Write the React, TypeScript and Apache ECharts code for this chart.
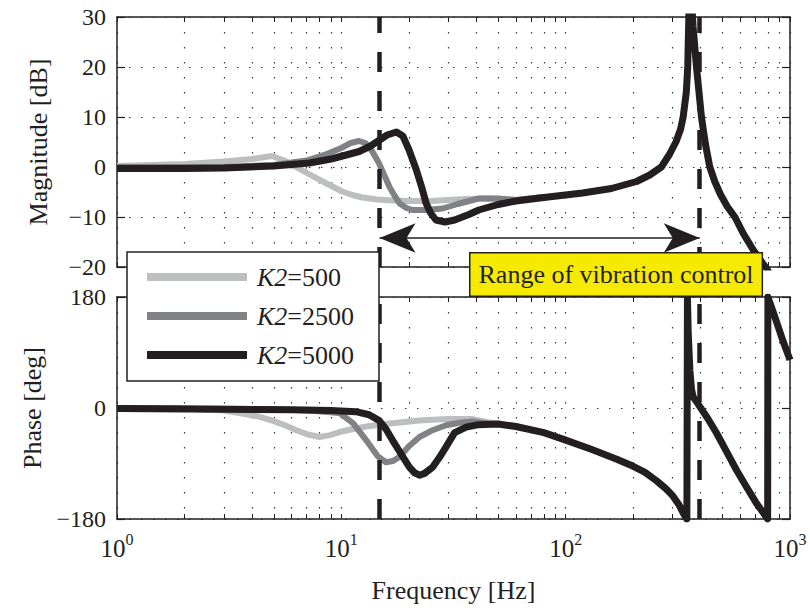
import React, { useEffect, useRef } from 'react';
import * as echarts from 'echarts';

const FONT = '"Liberation Serif", "Times New Roman", Times, serif';
const INK = '#231f20';

const seriesNames = ['K2=500', 'K2=2500', 'K2=5000'];
const seriesColors = ['#bcbec0', '#808285', '#231f20'];
const seriesWidths = [6, 6, 7];

// Magnitude [dB]
const magFreq500 = [1, 2, 3, 4, 4.9, 5.5, 6.3, 7.3, 8.6, 10.1, 11.2, 12.4, 14.5, 16.9, 20, 25, 30, 36, 45, 60, 80];
const mag500 = [0.2, 0.6, 1.1, 1.6, 2.2, 1.4, 0, -1.6, -3.3, -4.9, -5.6, -6.1, -6.5, -6.7, -6.8, -6.8, -6.6, -6.4, -6.3, -6.6, -6.0];

const magFreq2500 = [1, 3, 5, 7, 8.6, 10, 11, 12, 12.8, 13.7, 14.7, 15.6, 16.4, 17.3, 18.2, 19.5, 20.8, 24, 28.3, 33, 41, 50, 60, 80];
const mag2500 = [0, 0, 0.4, 1.3, 2.6, 3.8, 4.8, 5.2, 4.8, 3.2, 0.8, -1.8, -4, -5.8, -7.3, -8.2, -8.6, -8.6, -8.3, -7.4, -6.3, -6.3, -6.6, -6.0];

const magFreq5000 = [1, 2, 3, 5, 7.2, 9, 10.5, 12, 13.5, 14.7, 16, 17.6, 18.8, 20, 21.6, 22.8, 23.9, 25, 26.4, 29, 32, 37, 41, 50, 60, 80, 119, 160, 207, 237, 267, 290, 310, 325, 334, 345, 350, 354, 357, 362, 370, 383, 403, 420, 439, 462, 490, 525, 568, 619, 686, 757, 787, 900, 1000];
const mag5000 = [-0.3, -0.3, -0.2, 0.2, 0.8, 1.6, 2.4, 3.1, 4.2, 5.3, 6.4, 7.0, 6.2, 3.5, -0.6, -4, -7.3, -9.2, -10.6, -11, -10.6, -9.5, -8.6, -7.5, -6.8, -6.1, -5.2, -4.3, -2.9, -1.6, 0, 2.5, 5, 7.5, 10, 15, 20, 30, 40, 35, 28, 20, 10, 4.5, 0, -2.9, -5.5, -7.9, -10, -13.3, -16.6, -19.3, -20.3, -25, -30];

// Phase [deg]
const phFreq500 = [1, 2, 3, 3.5, 4.2, 4.9, 5.6, 6.3, 7.1, 8.0, 8.9, 9.8, 11.3, 12.9, 16.4, 23, 30, 38.6, 45, 50];
const ph500 = [0, -1, -4, -8, -13, -20, -28, -36, -43, -47, -44, -39, -34, -30, -25, -20, -18, -18, -23, -26];

const phFreq2500 = [1, 5, 7.2, 9.8, 11.3, 12.9, 14.5, 15.8, 17, 18.2, 20, 22.3, 25.5, 29.3, 33.6, 38.6, 45, 50];
const ph2500 = [0, -2, -4, -8, -25, -52, -78, -88, -86, -79, -62, -47, -36, -28, -24, -22, -25, -26];

const phFreq5000 = [1, 3, 6, 9, 11.6, 13.3, 14.7, 15.8, 16.9, 18.5, 20.1, 21.2, 22.3, 23.5, 25.5, 27.4, 29.3, 32, 36, 41, 50, 60, 80, 100, 130, 169, 193, 225, 254, 280, 301, 320, 334, 342, 347, 349, 352, 358, 364, 370, 387, 430, 471, 520, 578, 640, 710, 760, 795, 797, 841, 887, 934, 1000];
const ph5000 = [-1, -2, -3, -4, -6, -11, -20, -34, -52, -75, -96, -105, -109, -106, -96, -80, -63, -40, -31, -27, -26, -30, -40, -52, -67, -83, -92, -104, -118, -131, -143, -157, -170, -177, -180, 180, 120, 60, 30, 18, 8, -17, -41, -70, -101, -128, -155, -170, -180, 180, 156, 131, 107, 78];

// Axes
const freqTicks = [1, 10, 100, 1000];
const freqGrid = [1, 2, 3, 4, 5, 6, 7, 8, 9, 10, 20, 30, 40, 50, 60, 70, 80, 90, 100, 200, 300, 400, 500, 600, 700, 800, 900, 1000];
const magRange = [-20, 30];
const magStep = 10;
const phaseRange = [-180, 180];
const phaseStep = 180;

// Annotations
const controlBand = [14.8, 396];
const arrowLevel = -14.2;
const annotationText = 'Range of vibration control';

const magFreqs = [magFreq500, magFreq2500, magFreq5000];
const mags = [mag500, mag2500, mag5000];
const phFreqs = [phFreq500, phFreq2500, phFreq5000];
const phs = [ph500, ph2500, ph5000];

const pair = (f: number[], v: number[]) => f.map((x, i) => [x, v[i]]);
const minus = (v: number) => (v < 0 ? '\u2212' + String(-v) : String(v));

export default function App() {
  const ref = useRef<HTMLDivElement>(null);

  useEffect(() => {
    if (!ref.current) return;
    const chart = echarts.init(ref.current, null, { renderer: 'svg' });

    const axisLineStyle = { color: INK, width: 1.5 };
    const dottedV = { color: '#3a3a3a', width: 1.2, type: [1.5, 13.5] };
    const dottedH = { color: '#3a3a3a', width: 1.2, type: [1.5, 10.5] };

    const xBase = (gridIndex: number, position: string) => ({
      gridIndex,
      type: 'log',
      logBase: 10,
      min: 1,
      max: 1000,
      position,
      axisLine: { show: true, onZero: false, lineStyle: axisLineStyle },
      axisTick: { show: true, inside: true, length: 5, customValues: freqGrid, lineStyle: { color: INK, width: 1 } },
      axisLabel: { show: false },
      splitLine: { show: false },
    });

    const xAxes: any[] = [
      { ...xBase(0, 'bottom'), splitLine: { show: true, lineStyle: dottedV } },
      xBase(0, 'top'),
      {
        ...xBase(1, 'bottom'),
        splitLine: { show: true, lineStyle: dottedV },
        axisLabel: {
          show: true,
          customValues: freqTicks,
          margin: 12,
          showMinLabel: true,
          showMaxLabel: true,
          formatter: (v: number) => `{b|10}{s|${Math.round(Math.log10(v))}}`,
          rich: {
            b: { fontFamily: FONT, fontSize: 25, color: INK, lineHeight: 30, verticalAlign: 'bottom' },
            s: { fontFamily: FONT, fontSize: 16, color: INK, lineHeight: 16, verticalAlign: 'top' },
          },
        },
        name: 'Frequency [Hz]',
        nameLocation: 'middle',
        nameGap: 58,
        nameTextStyle: { fontFamily: FONT, fontSize: 26, color: INK },
      },
      xBase(1, 'top'),
    ];

    const yBase = (gridIndex: number, position: string, range: number[], step: number) => ({
      gridIndex,
      type: 'value',
      min: range[0],
      max: range[1],
      interval: step,
      position,
      axisLine: { show: true, onZero: false, lineStyle: axisLineStyle },
      axisTick: { show: true, inside: true, length: 8, lineStyle: { color: INK, width: 1.2 } },
      axisLabel: { show: false },
      splitLine: { show: false },
    });

    const yLabel = {
      show: true,
      margin: 11,
      formatter: minus,
      fontFamily: FONT,
      fontSize: 24,
      color: INK,
      showMinLabel: true,
      showMaxLabel: true,
    };
    const yName = { fontFamily: FONT, fontSize: 26, color: INK };

    const yAxes: any[] = [
      {
        ...yBase(0, 'left', magRange, magStep),
        axisLabel: yLabel,
        splitLine: { show: true, lineStyle: dottedH },
        name: 'Magnitude [dB]',
        nameLocation: 'middle',
        nameRotate: 90,
        nameGap: 66,
        nameTextStyle: yName,
      },
      yBase(0, 'right', magRange, magStep),
      {
        ...yBase(1, 'left', phaseRange, phaseStep),
        axisLabel: yLabel,
        splitLine: { show: true, lineStyle: dottedH },
        name: 'Phase [deg]',
        nameLocation: 'middle',
        nameRotate: 90,
        nameGap: 66,
        nameTextStyle: yName,
      },
      yBase(1, 'right', phaseRange, phaseStep),
    ];

    const dashMark = {
      silent: true,
      symbol: 'none',
      label: { show: false },
      emphasis: { disabled: true },
      lineStyle: { color: INK, width: 4.5, type: [20, 19], opacity: 1 },
      data: controlBand.map((f) => ({ xAxis: f })),
    };

    const arrowMark = {
      silent: true,
      symbol: ['arrow', 'arrow'],
      symbolSize: [22, 36],
      label: { show: false },
      emphasis: { disabled: true },
      itemStyle: { color: INK },
      lineStyle: { color: INK, width: 1.5, type: 'solid', opacity: 1 },
      data: [[{ coord: [controlBand[0], arrowLevel] }, { coord: [controlBand[1], arrowLevel] }]],
    };

    const series: any[] = [];
    seriesNames.forEach((name, i) => {
      series.push({
        name,
        type: 'line',
        xAxisIndex: 0,
        yAxisIndex: 0,
        data: pair(magFreqs[i], mags[i]),
        showSymbol: false,
        symbol: 'none',
        color: seriesColors[i],
        lineStyle: { color: seriesColors[i], width: seriesWidths[i], join: 'round' },
        clip: true,
        silent: true,
        z: 2 + i * 0.1,
        ...(i === 0 ? { markLine: dashMark } : {}),
        ...(i === 2 ? { markLine: arrowMark } : {}),
      });
    });
    seriesNames.forEach((name, i) => {
      series.push({
        name,
        type: 'line',
        xAxisIndex: 2,
        yAxisIndex: 2,
        data: pair(phFreqs[i], phs[i]),
        showSymbol: false,
        symbol: 'none',
        color: seriesColors[i],
        lineStyle: { color: seriesColors[i], width: seriesWidths[i], join: 'round' },
        clip: true,
        silent: true,
        z: 2 + i * 0.1,
        ...(i === 0 ? { markLine: dashMark } : {}),
      });
    });

    const option: any = {
      animation: false,
      backgroundColor: '#ffffff',
      grid: [
        { left: 117, top: 17, width: 673, height: 250 },
        { left: 117, top: 297, width: 673, height: 222 },
      ],
      xAxis: xAxes,
      yAxis: yAxes,
      legend: {
        data: seriesNames,
        orient: 'vertical',
        left: 127,
        top: 252,
        icon: 'rect',
        itemWidth: 100,
        itemHeight: 8,
        itemGap: 13,
        padding: [12, 0, 12, 20],
        selectedMode: false,
        itemStyle: { borderWidth: 0 },
        z: 10,
        formatter: (name: string) => `{i|K2}{n|${name.slice(2)}}`,
        textStyle: {
          fontFamily: FONT,
          fontSize: 26,
          color: INK,
          rich: {
            i: { fontFamily: FONT, fontSize: 26, fontStyle: 'italic', color: INK, lineHeight: 30, padding: [0, 0, 0, 5] },
            n: { fontFamily: FONT, fontSize: 26, color: INK, lineHeight: 30 },
          },
        },
      },
      graphic: [
        {
          type: 'rect',
          z: 9,
          silent: true,
          shape: { x: 127, y: 252, width: 252, height: 129 },
          style: { fill: '#ffffff', stroke: INK, lineWidth: 1.5 },
        },
        {
          type: 'text',
          left: 469,
          top: 252,
          z: 100,
          silent: true,
          style: {
            text: annotationText,
            font: `26px ${FONT}`,
            fill: INK,
            backgroundColor: '#f6eb00',
            borderColor: INK,
            borderWidth: 1.5,
            padding: [6, 8, 6, 8],
            lineHeight: 30,
          },
        },
      ],
      series,
    };

    chart.setOption(option);
    return () => chart.dispose();
  }, []);

  return (
    <div
      ref={ref}
      style={{ position: 'fixed', left: 0, top: 0, width: 810, height: 612, background: '#fff' }}
    />
  );
}
